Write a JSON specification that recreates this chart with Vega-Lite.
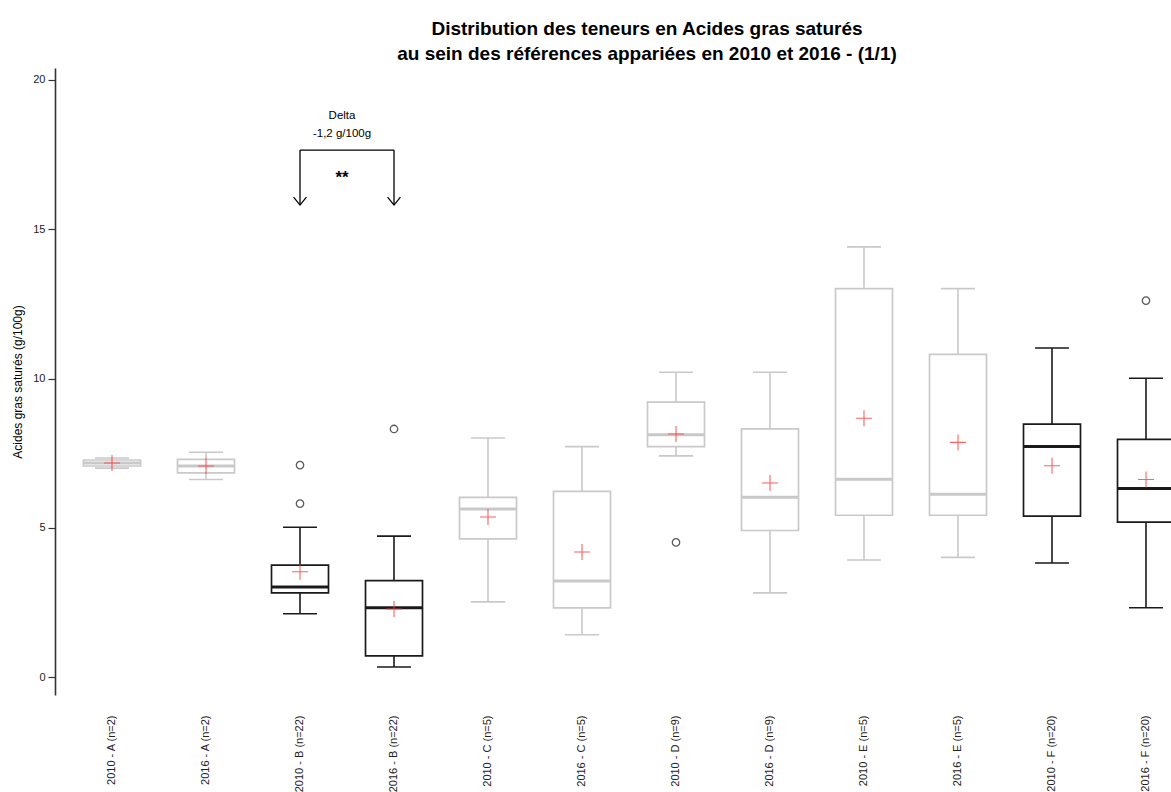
{
  "$schema": "https://vega.github.io/schema/vega-lite/v6.json",
  "width": 1128,
  "height": 627,
  "autosize": {"type": "none"},
  "padding": {"left": 65, "top": 68, "right": 0, "bottom": 97},
  "background": "white",
  "title": {
    "text": ["Distribution des teneurs en Acides gras saturés", "au sein des références appariées en 2010 et 2016 - (1/1)"],
    "font": "Liberation Sans",
    "fontSize": 19,
    "fontWeight": "bold",
    "color": "#000000",
    "anchor": "middle",
    "frame": "group",
    "dx": 18,
    "offset": 4,
    "lineHeight": 25
  },
  "config": {
    "view": {"stroke": null},
    "font": "Liberation Sans",
    "axisY": {
      "grid": false,
      "offset": 10,
      "tickSize": 7,
      "tickColor": "#333333",
      "tickWidth": 1.2,
      "domainColor": "#333333",
      "domainWidth": 1.6,
      "labelFontSize": 11,
      "labelColor": "#222222",
      "labelPadding": 3,
      "titleFontSize": 12,
      "titleFontWeight": "normal",
      "titleColor": "#000000",
      "titlePadding": 8
    },
    "axisX": {
      "domain": false,
      "ticks": false,
      "grid": false,
      "labelAngle": -90,
      "labelFontSize": 11,
      "labelColor": "#222222",
      "labelPadding": 20
    }
  },
  "datasets": {
    "box": [
      {"cat": "2010 - A (n=2)", "grp": "gris", "lo": 7.0, "q1": 7.07, "med": 7.17, "q3": 7.27, "hi": 7.34, "mean": 7.17},
      {"cat": "2016 - A (n=2)", "grp": "gris", "lo": 6.62, "q1": 6.84, "med": 7.07, "q3": 7.29, "hi": 7.53, "mean": 7.07},
      {"cat": "2010 - B (n=22)", "grp": "noir", "lo": 2.12, "q1": 2.82, "med": 3.02, "q3": 3.75, "hi": 5.02, "mean": 3.53},
      {"cat": "2016 - B (n=22)", "grp": "noir", "lo": 0.34, "q1": 0.71, "med": 2.32, "q3": 3.23, "hi": 4.72, "mean": 2.28},
      {"cat": "2010 - C (n=5)", "grp": "gris", "lo": 2.52, "q1": 4.63, "med": 5.63, "q3": 6.02, "hi": 8.01, "mean": 5.36},
      {"cat": "2016 - C (n=5)", "grp": "gris", "lo": 1.42, "q1": 2.32, "med": 3.22, "q3": 6.22, "hi": 7.72, "mean": 4.19},
      {"cat": "2010 - D (n=9)", "grp": "gris", "lo": 7.41, "q1": 7.72, "med": 8.12, "q3": 9.21, "hi": 10.21, "mean": 8.14},
      {"cat": "2016 - D (n=9)", "grp": "gris", "lo": 2.82, "q1": 4.91, "med": 6.02, "q3": 8.31, "hi": 10.21, "mean": 6.5},
      {"cat": "2010 - E (n=5)", "grp": "gris", "lo": 3.92, "q1": 5.42, "med": 6.63, "q3": 13.01, "hi": 14.41, "mean": 8.67},
      {"cat": "2016 - E (n=5)", "grp": "gris", "lo": 4.01, "q1": 5.42, "med": 6.12, "q3": 10.81, "hi": 13.01, "mean": 7.86},
      {"cat": "2010 - F (n=20)", "grp": "noir", "lo": 3.82, "q1": 5.39, "med": 7.72, "q3": 8.47, "hi": 11.02, "mean": 7.08},
      {"cat": "2016 - F (n=20)", "grp": "noir", "lo": 2.32, "q1": 5.19, "med": 6.32, "q3": 7.96, "hi": 10.01, "mean": 6.62}
    ],
    "out": [
      {"cat": "2010 - B (n=22)", "v": 7.1},
      {"cat": "2010 - B (n=22)", "v": 5.81},
      {"cat": "2016 - B (n=22)", "v": 8.31},
      {"cat": "2010 - D (n=9)", "v": 4.51},
      {"cat": "2016 - F (n=20)", "v": 12.61}
    ],
    "bracket": [
      {"cat": "2010 - B (n=22)", "cat2": "2016 - B (n=22)", "top": 17.65}
    ],
    "legs": [
      {"cat": "2010 - B (n=22)", "top": 17.65, "bot": 15.81},
      {"cat": "2016 - B (n=22)", "top": 17.65, "bot": 15.81}
    ],
    "labels": [
      {"cat": "2010 - B (n=22)", "y": 18.79, "txt": "Delta"},
      {"cat": "2010 - B (n=22)", "y": 18.19, "txt": "-1,2 g/100g"}
    ],
    "stars": [
      {"cat": "2010 - B (n=22)", "y": 16.72, "txt": "**"}
    ]
  },
  "layer": [
    {
      "data": {"name": "box"},
      "mark": {"type": "rule", "strokeWidth": 1.6},
      "encoding": {
        "x": {"field": "cat", "type": "nominal", "title": null, "sort": null,
              "scale": {"domain": ["2010 - A (n=2)", "2016 - A (n=2)", "2010 - B (n=22)", "2016 - B (n=22)", "2010 - C (n=5)", "2016 - C (n=5)", "2010 - D (n=9)", "2016 - D (n=9)", "2010 - E (n=5)", "2016 - E (n=5)", "2010 - F (n=20)", "2016 - F (n=20)"], "paddingInner": 0, "paddingOuter": 0}},
        "y": {"field": "lo", "type": "quantitative", "title": "Acides gras saturés (g/100g)",
              "axis": {"values": [0, 5, 10, 15, 20]},
              "scale": {"domain": [-0.6, 20.4], "nice": false, "zero": false}},
        "y2": {"field": "q1"},
        "color": {"field": "grp", "type": "nominal", "legend": null, "scale": {"domain": ["gris", "noir"], "range": ["#c9c9c9", "#1a1a1a"]}}
      }
    },
    {
      "data": {"name": "box"},
      "mark": {"type": "rule", "strokeWidth": 1.6},
      "encoding": {
        "x": {"field": "cat", "type": "nominal", "title": null, "sort": null},
        "y": {"field": "q3", "type": "quantitative", "title": "Acides gras saturés (g/100g)"},
        "y2": {"field": "hi"},
        "color": {"field": "grp", "type": "nominal", "legend": null}
      }
    },
    {
      "data": {"name": "box"},
      "mark": {"type": "tick", "orient": "horizontal", "size": 34, "thickness": 1.6, "opacity": 1},
      "encoding": {
        "x": {"field": "cat", "type": "nominal", "title": null, "sort": null},
        "y": {"field": "lo", "type": "quantitative", "title": "Acides gras saturés (g/100g)"},
        "color": {"field": "grp", "type": "nominal", "legend": null}
      }
    },
    {
      "data": {"name": "box"},
      "mark": {"type": "tick", "orient": "horizontal", "size": 34, "thickness": 1.6, "opacity": 1},
      "encoding": {
        "x": {"field": "cat", "type": "nominal", "title": null, "sort": null},
        "y": {"field": "hi", "type": "quantitative", "title": "Acides gras saturés (g/100g)"},
        "color": {"field": "grp", "type": "nominal", "legend": null}
      }
    },
    {
      "data": {"name": "box"},
      "mark": {"type": "bar", "fill": "white", "strokeWidth": 1.7, "size": 57, "opacity": 1},
      "encoding": {
        "x": {"field": "cat", "type": "nominal", "title": null, "sort": null},
        "y": {"field": "q1", "type": "quantitative", "title": "Acides gras saturés (g/100g)"},
        "y2": {"field": "q3"},
        "stroke": {"field": "grp", "type": "nominal", "legend": null, "scale": {"domain": ["gris", "noir"], "range": ["#c9c9c9", "#1a1a1a"]}}
      }
    },
    {
      "data": {"name": "box"},
      "mark": {"type": "tick", "orient": "horizontal", "size": 57, "thickness": 3, "opacity": 1},
      "encoding": {
        "x": {"field": "cat", "type": "nominal", "title": null, "sort": null},
        "y": {"field": "med", "type": "quantitative", "title": "Acides gras saturés (g/100g)"},
        "color": {"field": "grp", "type": "nominal", "legend": null}
      }
    },
    {
      "data": {"name": "box"},
      "mark": {"type": "point", "shape": "M-1,0L1,0M0,-1L0,1", "size": 256, "filled": false, "stroke": "#ff3b3b", "strokeWidth": 1.1, "opacity": 0.8},
      "encoding": {
        "x": {"field": "cat", "type": "nominal", "title": null, "sort": null},
        "y": {"field": "mean", "type": "quantitative", "title": "Acides gras saturés (g/100g)"}
      }
    },
    {
      "data": {"name": "out"},
      "mark": {"type": "point", "shape": "circle", "size": 55, "filled": false, "stroke": "#5a5a5a", "strokeWidth": 1.3, "opacity": 1},
      "encoding": {
        "x": {"field": "cat", "type": "nominal", "title": null, "sort": null},
        "y": {"field": "v", "type": "quantitative", "title": "Acides gras saturés (g/100g)"}
      }
    },
    {
      "data": {"name": "bracket"},
      "mark": {"type": "rule", "color": "#000000", "strokeWidth": 1.3},
      "encoding": {
        "x": {"field": "cat", "type": "nominal", "title": null, "sort": null, "bandPosition": 0.5},
        "x2": {"field": "cat2", "bandPosition": 0.5},
        "y": {"field": "top", "type": "quantitative", "title": "Acides gras saturés (g/100g)"}
      }
    },
    {
      "data": {"name": "legs"},
      "mark": {"type": "rule", "color": "#000000", "strokeWidth": 1.3},
      "encoding": {
        "x": {"field": "cat", "type": "nominal", "title": null, "sort": null},
        "y": {"field": "top", "type": "quantitative", "title": "Acides gras saturés (g/100g)"},
        "y2": {"field": "bot"}
      }
    },
    {
      "data": {"name": "legs"},
      "mark": {"type": "point", "shape": "M-0.8,-1L0,0L0.8,-1", "size": 256, "filled": false, "stroke": "#000000", "strokeWidth": 1.3, "opacity": 1},
      "encoding": {
        "x": {"field": "cat", "type": "nominal", "title": null, "sort": null},
        "y": {"field": "bot", "type": "quantitative", "title": "Acides gras saturés (g/100g)"}
      }
    },
    {
      "data": {"name": "labels"},
      "mark": {"type": "text", "fontSize": 11.5, "color": "#000000", "align": "center", "baseline": "middle", "dx": -5},
      "encoding": {
        "x": {"field": "cat", "type": "nominal", "title": null, "sort": null, "bandPosition": 1},
        "y": {"field": "y", "type": "quantitative", "title": "Acides gras saturés (g/100g)"},
        "text": {"field": "txt"}
      }
    },
    {
      "data": {"name": "stars"},
      "mark": {"type": "text", "fontSize": 17, "fontWeight": "bold", "color": "#000000", "align": "center", "baseline": "middle", "dx": -5},
      "encoding": {
        "x": {"field": "cat", "type": "nominal", "title": null, "sort": null, "bandPosition": 1},
        "y": {"field": "y", "type": "quantitative", "title": "Acides gras saturés (g/100g)"},
        "text": {"field": "txt"}
      }
    }
  ]
}
